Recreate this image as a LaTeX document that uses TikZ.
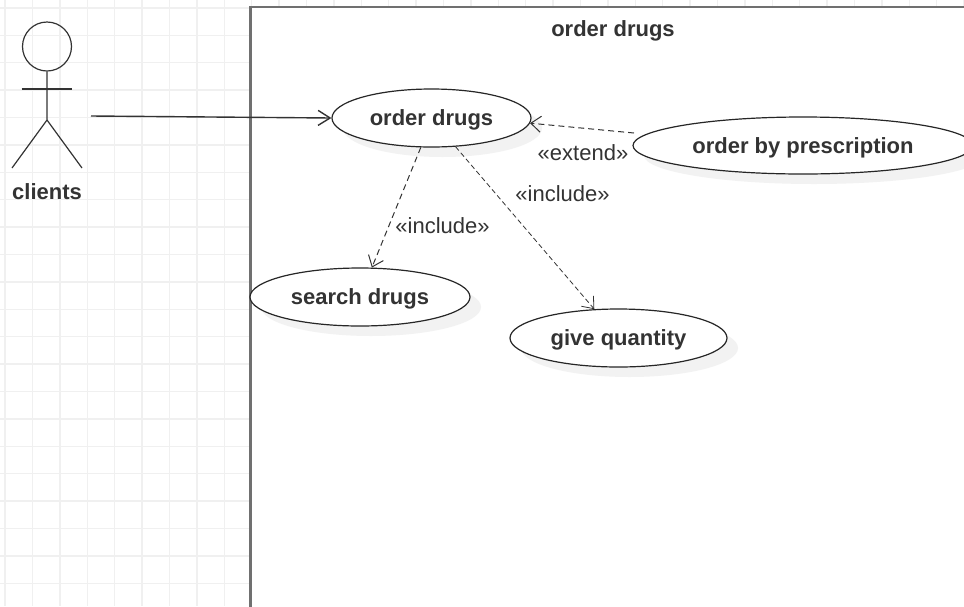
\documentclass[tikz,border=0pt]{standalone}
\usepackage{fontspec}
\setmainfont{Liberation Sans}
\usetikzlibrary{shapes.geometric,shadows,arrows.meta}

\begin{document}
\begin{tikzpicture}[x=1pt, y=-1pt]
  \definecolor{mygrid}{HTML}{F0F0F0}
  \definecolor{myline}{HTML}{333333}
  \definecolor{myframe}{HTML}{707070}
  \definecolor{myshadow}{HTML}{F2F2F2}
  \tikzstyle{every node}=[text=myline]
  \tikzstyle{usecase}=[ellipse, draw=black!85, line width=1.2pt, fill=white, inner sep=0pt,
    font=\fontsize{22}{26}\selectfont\bfseries, text height=16pt, text depth=1pt,
    copy shadow={shadow xshift=11pt, shadow yshift=-10pt, fill=myshadow, draw=none}]
  \tikzstyle{stereo}=[font=\fontsize{22}{26}\selectfont, inner sep=0pt]
  \tikzstyle{dep}=[dash pattern=on 6pt off 4pt, line width=1pt, myline,
    -{Straight Barb[length=10pt,width=16pt]}]

  \useasboundingbox (0,0) rectangle (964,606);
  \clip (0,0) rectangle (964,606);

  % grid
  \foreach \i in {0,...,35}
    \draw[mygrid, line width=1.4pt] (5+27.4*\i,0) -- (5+27.4*\i,606);
  \foreach \i in {0,...,21}
    \draw[mygrid, line width=1.4pt] (0,7.8+27.4*\i) -- (964,7.8+27.4*\i);

  % system box
  \node[rectangle, draw=myframe, fill=white, line width=2.4pt, outer sep=0pt, anchor=north west,
    minimum width=760pt, minimum height=640pt] (frame) at (250.5,7) {};
  \node[font=\fontsize{22}{26}\selectfont\bfseries, inner sep=0pt] (title) at (613,31) {order drugs};

  % actor
  \node[circle, draw=myline, line width=1.2pt, minimum size=49pt, inner sep=0pt] (head) at (47,46.5) {};
  \coordinate (hip) at (47,120);
  \coordinate (arml) at (21.5,89);
  \coordinate (armr) at (72,89);
  \coordinate (footl) at (12,168);
  \coordinate (footr) at (82,168);
  \draw[myline, line width=1.2pt] (head.south) -- (hip) -- (footl);
  \draw[myline, line width=1.2pt] (hip) -- (footr);
  \draw[myline, line width=1.2pt] (arml) -- (armr);
  \node[font=\fontsize{22}{26}\selectfont\bfseries, inner sep=0pt] (clients) at (47,192) {clients};

  % use cases
  \node[usecase, minimum width=199pt, minimum height=58pt] (order) at (431.5,118) {order drugs};
  \node[usecase, minimum width=340pt, minimum height=57pt] (presc) at (803,145.5) {order by prescription};
  \node[usecase, minimum width=220pt, minimum height=58pt] (search) at (360,297) {search drugs};
  \node[usecase, minimum width=217pt, minimum height=58pt] (give) at (618.5,338) {give quantity};

  % connectors
  \coordinate (start) at (91,116);
  \coordinate (extstart) at (634,133);
  \draw[myline, line width=1.4pt, -{Straight Barb[length=12pt,width=15pt]}] (start) -- (order.west);
  \draw[dep] (extstart) -- (order.-3);
  \draw[dep] (order.-110) -- (search.68);
  \draw[dep, line width=0.8pt, dash pattern=on 5pt off 3pt] (order.-50) -- (give.130);

  \node[stereo] (ext) at (583,153) {«extend»};
  \node[stereo] (inca) at (442.5,226) {«include»};
  \node[stereo] (incb) at (562.5,194) {«include»};
\end{tikzpicture}
\end{document}
